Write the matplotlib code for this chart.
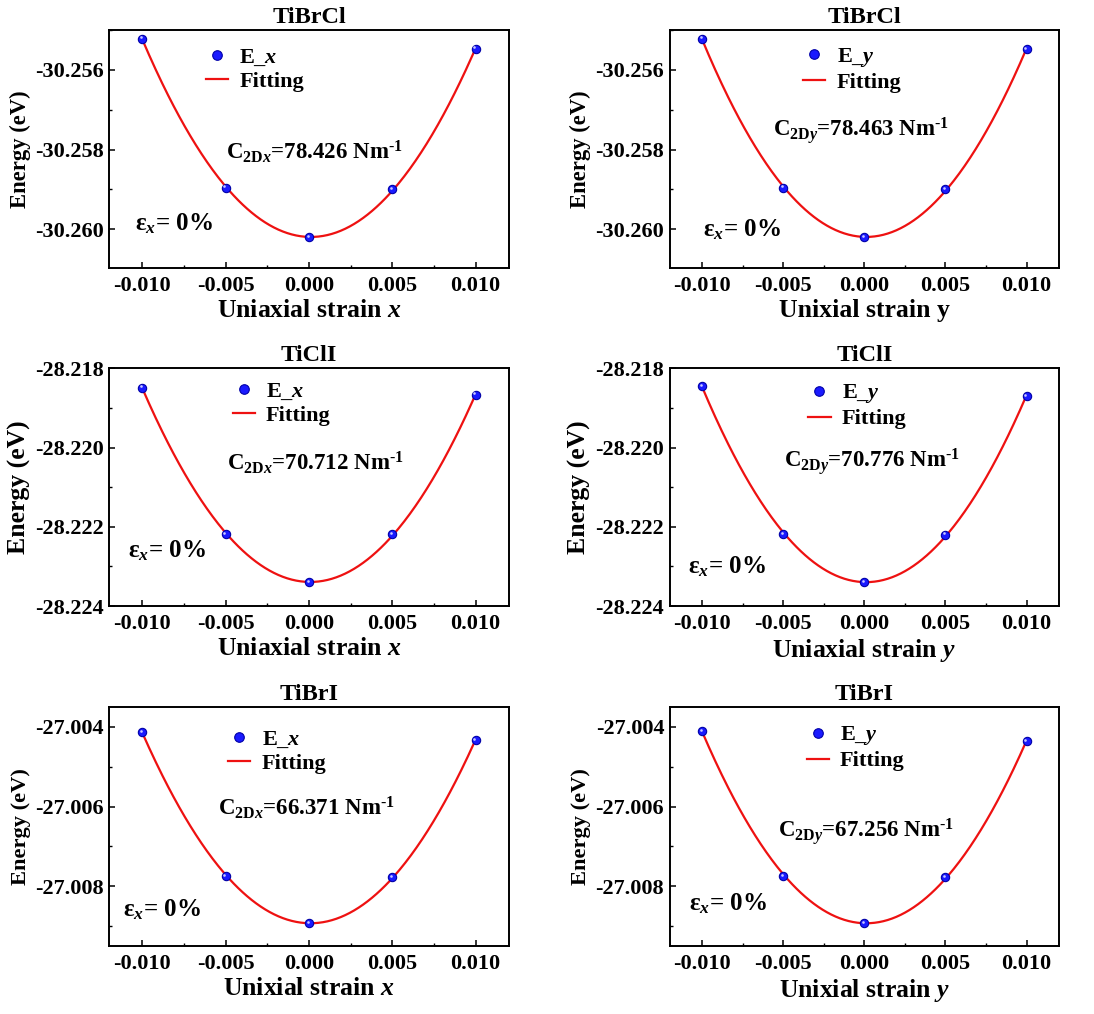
import numpy as np
import matplotlib
matplotlib.use("Agg")
import matplotlib.pyplot as plt
from matplotlib.transforms import ScaledTranslation

plt.rcParams['font.family'] = ['Liberation Serif', 'DejaVu Serif']
plt.rcParams['font.weight'] = 'bold'
plt.rcParams['mathtext.fontset'] = 'custom'
plt.rcParams['mathtext.rm'] = 'Liberation Serif:bold'
plt.rcParams['mathtext.bf'] = 'Liberation Serif:bold'
plt.rcParams['mathtext.it'] = 'Liberation Serif:italic:bold'
plt.rcParams['axes.unicode_minus'] = False

# ---------------- data ----------------
strain = [-0.010, -0.005, 0.000, 0.005, 0.010]

tibrcl_x = [-30.25522, -30.25896, -30.26019, -30.25900, -30.25547]
tibrcl_y = [-30.25522, -30.25896, -30.26019, -30.25900, -30.25548]
ticli_x = [-28.21849, -28.22218, -28.22340, -28.22219, -28.21867]
ticli_y = [-28.21845, -28.22218, -28.22340, -28.22220, -28.21870]
tibri_x = [-27.00413, -27.00775, -27.00892, -27.00777, -27.00433]
tibri_y = [-27.00410, -27.00774, -27.00892, -27.00778, -27.00436]

titles = ['TiBrCl', 'TiBrCl', 'TiClI', 'TiClI', 'TiBrI', 'TiBrI']
series = [tibrcl_x, tibrcl_y, ticli_x, ticli_y, tibri_x, tibri_y]
legend_labels = [r'E_$\mathit{x}$', r'E_$\mathit{y}$'] * 3
c2d_values = ['78.426', '78.463', '70.712', '70.776', '66.371', '67.256']
c2d_dirs = ['x', 'y', 'x', 'y', 'x', 'y']
xlabels = [r'Uniaxial strain $\mathit{x}$', 'Unixial strain y',
           r'Uniaxial strain $\mathit{x}$', r'Uniaxial strain $\mathit{y}$',
           r'Unixial strain $\mathit{x}$', r'Unixial strain $\mathit{y}$']

xticks = [-0.010, -0.005, 0.000, 0.005, 0.010]
xminor = [-0.0075, -0.0025, 0.0025, 0.0075]
yticks_rows = [[-30.260, -30.258, -30.256],
               [-28.224, -28.222, -28.220, -28.218],
               [-27.008, -27.006, -27.004]]
yminor_rows = [[-30.259, -30.257, -30.255],
               [-28.223, -28.221, -28.219],
               [-27.009, -27.007, -27.005]]
ylims_rows = [(-30.26097, -30.25500), (-28.224, -28.218), (-27.0095, -27.0035)]

# ---------------- layout (pixels of 1094x1014 figure) ----------------
W, H = 1094, 1014
col_x = [(109, 509), (669.7, 1059)]
row_y = [(30, 268), (368.3, 606), (707, 946)]
leg_pos = [(0.2425, 0.834), (0.343, 0.835), (0.309, 0.853),
           (0.356, 0.842), (0.298, 0.812), (0.352, 0.829)]
c2d_pos = [(0.2925, 0.458), (0.265, 0.552), (0.294, 0.572),
           (0.294, 0.583), (0.273, 0.548), (0.277, 0.457)]
eps_pos = [(0.065, 0.160), (0.086, 0.132), (0.048, 0.205),
           (0.048, 0.138), (0.034, 0.123), (0.0496, 0.148)]
ylabel_sizes = [16.3, 16.3, 18.5, 18.5, 16.2, 16.2]

fig = plt.figure(figsize=(W / 100, H / 100), dpi=100)
fig.patch.set_facecolor('white')

for i in range(6):
    r, c = divmod(i, 2)
    x0, x1 = col_x[c]
    y0, y1 = row_y[r]
    ax = fig.add_axes([x0 / W, 1 - y1 / H, (x1 - x0) / W, (y1 - y0) / H])
    vals = series[i]

    # quadratic fit
    coef = np.polyfit(strain, vals, 2)
    xf = np.linspace(min(strain), max(strain), 300)
    ax.plot(xf, np.polyval(coef, xf), color='#ee1111', lw=1.6, zorder=2,
            label='Fitting')

    # spheres
    ax.plot(strain, vals, 'o', ms=6.0, mfc='#1a1aff', mec='#0000a8', mew=0.8,
            zorder=3, label=legend_labels[i], ls='none')
    off = ax.transData + ScaledTranslation(-1.0 / 72, 1.0 / 72, fig.dpi_scale_trans)
    ax.plot(strain, vals, 'o', ms=1.9, mfc='#c8c8ff', mec='none', zorder=4,
            transform=off, ls='none')

    ax.set_xlim(-0.012, 0.012)
    ax.set_ylim(*ylims_rows[r])
    ax.set_xticks(xticks)
    ax.set_xticklabels(['%.3f' % v for v in xticks])
    ax.set_xticks(xminor, minor=True)
    ax.set_yticks(yticks_rows[r])
    ax.set_yticklabels(['%.3f' % v for v in yticks_rows[r]])
    ax.set_yticks(yminor_rows[r], minor=True)

    ax.tick_params(axis='both', which='major', direction='in', length=4.5,
                   width=1.1, labelsize=16, top=False, right=False)
    ax.tick_params(axis='both', which='minor', direction='in', length=2.5,
                   width=1.0, top=False, right=False)
    ax.tick_params(axis='x', which='major', pad=6)
    ax.tick_params(axis='y', which='major', pad=4)
    for sp in ax.spines.values():
        sp.set_linewidth(1.4)

    ax.set_title(titles[i], fontsize=17.5, fontweight='bold', pad=5)
    ax.set_xlabel(xlabels[i], fontsize=18.5, fontweight='bold', labelpad=2)
    ax.set_ylabel('Energy (eV)', fontsize=ylabel_sizes[i], fontweight='bold',
                  labelpad=3)

    h, l = ax.get_legend_handles_labels()
    ax.legend([h[1], h[0]], [l[1], l[0]], loc='center left',
              bbox_to_anchor=leg_pos[i], frameon=False, fontsize=16,
              handlelength=1.0, handletextpad=0.5, labelspacing=0.15,
              borderpad=0, borderaxespad=0, markerscale=1.15)

    d = c2d_dirs[i]
    ax.text(c2d_pos[i][0], c2d_pos[i][1],
            r'C$_{\mathrm{2D}\mathit{%s}}$=%s Nm$^{\mathrm{\text{-}1}}$' % (d, c2d_values[i]),
            transform=ax.transAxes, fontsize=16.5, fontweight='bold',
            ha='left', va='baseline')
    ax.text(eps_pos[i][0], eps_pos[i][1], r'ε$_{\mathit{x}}$= 0%',
            transform=ax.transAxes, fontsize=18, fontweight='bold',
            ha='left', va='baseline')

fig.savefig('out.png', dpi=100, facecolor='white')
